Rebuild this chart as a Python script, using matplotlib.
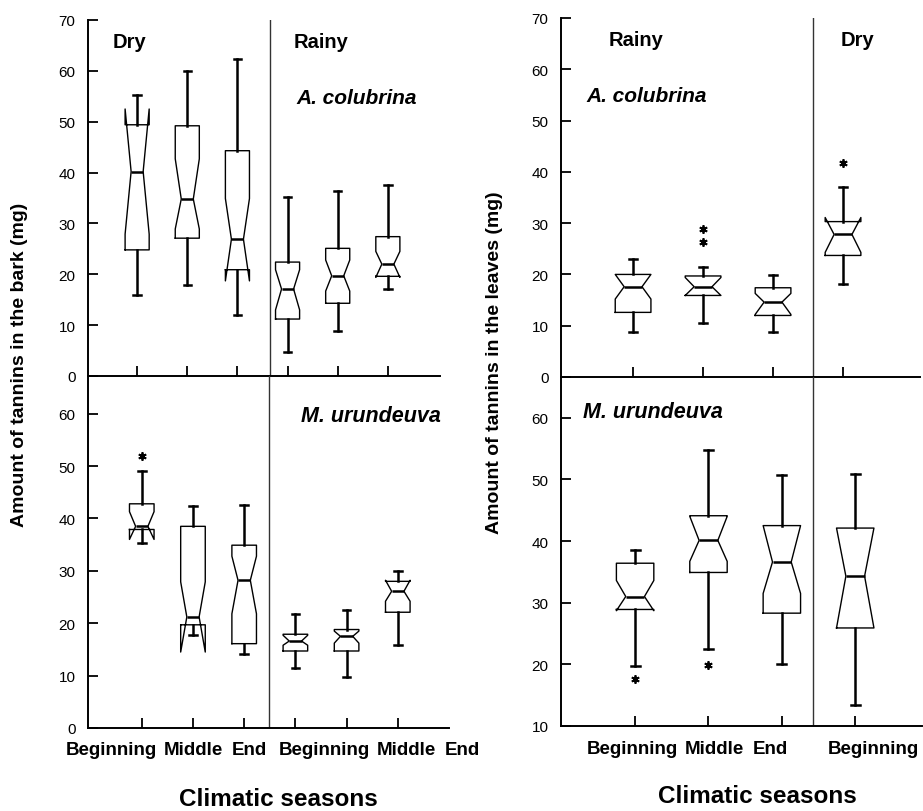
import matplotlib
matplotlib.use("Agg")
import matplotlib.pyplot as plt

plt.rcParams["font.family"] = ["Liberation Sans", "DejaVu Sans"]

W, H = 923, 812

# each row: whislo, q1, cilo, med, cihi, q3, whishi
bark_ac = [
    [15.9, 24.8, 27.9, 40.2, 52.5, 49.4, 55.3],
    [17.9, 27.1, 28.9, 34.8, 42.7, 49.2, 60.0],
    [12.0, 20.9, 18.7, 26.9, 34.9, 44.3, 62.3],
    [4.8, 11.2, 13.0, 17.1, 20.9, 22.4, 35.1],
    [8.9, 14.3, 16.7, 19.7, 22.8, 25.1, 36.4],
    [17.1, 19.6, 19.4, 22.0, 24.5, 27.4, 37.6],
]
bark_ac_fliers = [[], [], [], [], [], []]

bark_mu = [
    [35.4, 37.9, 36.0, 38.5, 41.3, 42.8, 49.0],
    [17.7, 19.7, 14.5, 21.2, 27.9, 38.5, 42.4],
    [14.2, 16.1, 21.8, 28.2, 32.8, 34.9, 42.5],
    [11.5, 14.7, 15.8, 16.6, 17.7, 17.9, 21.7],
    [9.7, 14.7, 16.2, 17.5, 18.5, 18.8, 22.5],
    [15.9, 22.1, 24.2, 26.1, 28.2, 28.0, 29.9],
]
bark_mu_fliers = [[51.9], [], [], [], [], []]

leaf_ac = [
    [8.7, 12.6, 15.2, 17.6, 20.0, 20.0, 23.1],
    [10.6, 15.9, 15.9, 17.6, 19.4, 19.7, 21.5],
    [8.8, 12.0, 12.2, 14.6, 16.3, 17.4, 19.9],
    [18.2, 23.7, 24.3, 27.8, 31.1, 30.3, 37.0],
]
leaf_ac_fliers = [[], [28.8, 26.4], [], [41.7]]

leaf_mu = [
    [19.7, 28.9, 28.7, 31.0, 33.6, 36.4, 38.5],
    [22.5, 34.9, 36.7, 40.1, 44.0, 44.1, 54.8],
    [20.1, 28.3, 31.5, 36.6, 42.5, 42.5, 50.7],
    [13.4, 25.9, 25.9, 34.3, 42.1, 42.1, 50.9],
]
leaf_mu_fliers = [[17.6], [19.9], [], []]

bark_labels = ["Beginning", "Middle", "End", "Beginning", "Middle", "End"]
leaf_labels = ["Beginning", "Middle", "End", "Beginning"]


def px_rect(left, top, right, bottom):
    return [left / W, 1 - bottom / H, (right - left) / W, (bottom - top) / H]


def ftext(x, y, s, **kw):
    fig.text(x / W, 1 - y / H, s, ha="center", va="center", **kw)


def draw_panel(ax, rows, fliers, width, capw, xlim, ylim, yticks, divider):
    stats = []
    for r, fl in zip(rows, fliers):
        stats.append(dict(whislo=r[0], q1=r[1], cilo=r[2], med=r[3],
                          cihi=r[4], q3=r[5], whishi=r[6], fliers=fl))
    pos = list(range(1, len(rows) + 1))
    ax.bxp(stats, positions=pos, widths=width, capwidths=capw,
           shownotches=True, manage_ticks=False,
           boxprops=dict(color="black", linewidth=1.0),
           whiskerprops=dict(color="black", linewidth=1.8),
           capprops=dict(color="black", linewidth=1.8),
           medianprops=dict(color="black", linewidth=1.8),
           flierprops=dict(marker=(6, 2, 0), markersize=6,
                           markeredgecolor="black", markeredgewidth=1.3))
    ax.set_facecolor("none")
    ax.set_xlim(*xlim)
    ax.set_ylim(*ylim)
    ax.set_xticks(pos)
    ax.set_xticklabels([])
    ax.set_yticks(yticks)
    ax.axvline(divider, color="#333333", linewidth=1.0)
    for s in ["top", "right"]:
        ax.spines[s].set_visible(False)
    for s in ["left", "bottom"]:
        ax.spines[s].set_linewidth(1.4)
    ax.tick_params(direction="in", length=7, width=1.3, labelsize=11, pad=9)


fig = plt.figure(figsize=(W / 100, H / 100), dpi=100)

ax1 = fig.add_axes(px_rect(88, 21, 440, 377))
draw_panel(ax1, bark_ac, bark_ac_fliers, 0.48, 0.15, (0.02, 7.04), (0, 70),
           range(0, 71, 10), 3.65)

ax2 = fig.add_axes(px_rect(88, 377, 449, 729))
draw_panel(ax2, bark_mu, bark_mu_fliers, 0.48, 0.15, (-0.05, 7.0), (0, 67.2),
           range(0, 61, 10), 3.48)

ax3 = fig.add_axes(px_rect(561, 19, 920, 378))
draw_panel(ax3, leaf_ac, leaf_ac_fliers, 0.51, 0.12, (-0.03, 5.1), (0, 70),
           range(0, 71, 10), 3.57)

ax4 = fig.add_axes(px_rect(561, 378, 922, 727))
draw_panel(ax4, leaf_mu, leaf_mu_fliers, 0.51, 0.12, (-0.01, 4.91), (10, 66.6),
           range(10, 61, 10), 3.43)

# panel headings
ftext(129, 42, "Dry", fontsize=14.5, fontweight="bold")
ftext(321, 42, "Rainy", fontsize=14.5, fontweight="bold")
ftext(357, 99, "A. colubrina", fontsize=15, fontweight="bold", style="italic")
ftext(371, 417, "M. urundeuva", fontsize=15.5, fontweight="bold", style="italic")
ftext(636, 40, "Rainy", fontsize=14.5, fontweight="bold")
ftext(857, 40, "Dry", fontsize=14.5, fontweight="bold")
ftext(647, 97, "A. colubrina", fontsize=15, fontweight="bold", style="italic")
ftext(653, 413, "M. urundeuva", fontsize=15.5, fontweight="bold", style="italic")

# x labels under the bottom panels
for x, s in zip([111, 193, 249, 324, 406, 462], bark_labels):
    ftext(x, 751, s, fontsize=13.5, fontweight="bold")
for x, s in zip([632, 714, 770, 873], leaf_labels):
    ftext(x, 750, s, fontsize=13.5, fontweight="bold")

ftext(278, 800, "Climatic seasons", fontsize=17.5, fontweight="bold")
ftext(757, 797, "Climatic seasons", fontsize=17.5, fontweight="bold")

ftext(20, 365, "Amount of tannins in the bark (mg)", fontsize=14,
      fontweight="bold", rotation=90)
ftext(495, 363, "Amount of tannins in the leaves (mg)", fontsize=14,
      fontweight="bold", rotation=90)

fig.savefig("out.png", dpi=100)
